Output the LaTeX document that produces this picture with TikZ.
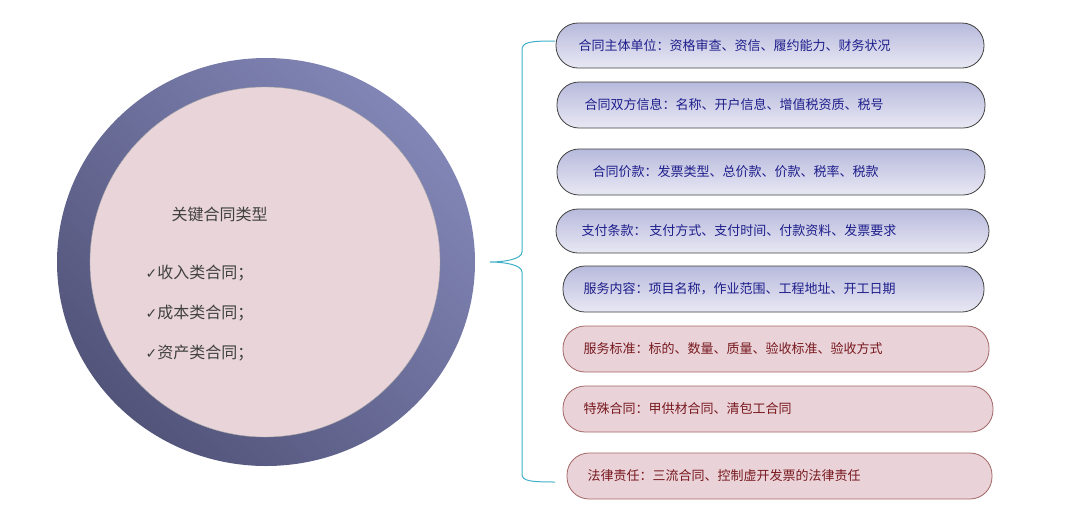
\documentclass[tikz,border=0pt]{standalone}
\usepackage{fontspec}
\newfontfamily\cjk{Noto Sans CJK SC}
\newfontfamily\dv{DejaVu Sans}
\begin{document}
\begin{tikzpicture}[x=1pt,y=-1pt,
  pinkbox/.style={draw=black!60!red!60,line width=0.8pt,rounded corners=22pt,fill={rgb,255:red,233;green,211;blue,217}},
  btxt/.style={font=\cjk\fontsize{13}{15}\selectfont,text={rgb,255:red,30;green,30;blue,140},anchor=west},
  ptxt/.style={font=\cjk\fontsize{13}{15}\selectfont,text={rgb,255:red,120;green,25;blue,30},anchor=west},
  ctxt/.style={font=\cjk\fontsize{16}{18}\selectfont,text=black!75,anchor=west}]
\useasboundingbox (0,0) rectangle (1080,512);
\definecolor{bt}{RGB}{184,186,220}\definecolor{bb}{RGB}{232,232,244}
\definecolor{brk}{RGB}{64,176,200}
% circle
\shade[left color={rgb,255:red,130;green,134;blue,182},right color={rgb,255:red,82;green,84;blue,122},shading angle=-45] (266,262) ellipse [x radius=209,y radius=204];
\filldraw[draw=black!35,fill={rgb,255:red,232;green,212;blue,217}] (265,262) circle [radius=175];
\node[ctxt] (t0) at (168,214) {关键合同类型};
\node[ctxt] (t1) at (142,273) {{\dv\fontsize{14}{16}\selectfont ✓}收入类合同；};
\node[ctxt] (t2) at (142,313) {{\dv\fontsize{14}{16}\selectfont ✓}成本类合同；};
\node[ctxt] (t3) at (142,353) {{\dv\fontsize{14}{16}\selectfont ✓}资产类合同；};
% boxes
\foreach \a/\b/\c/\d/\t/\s in {
 556/984/23/68/{合同主体单位：资格审查、资信、履约能力、财务状况}/575,
 557/985/82/128/{合同双方信息：名称、开户信息、增值税资质、税号}/581,
 557/985/149/195/{合同价款：发票类型、总价款、价款、税率、税款}/589,
 556/989/209/253/{支付条款：\ 支付方式、支付时间、付款资料、发票要求}/578,
 563/984/266/312/{服务内容：项目名称，作业范围、工程地址、开工日期}/580}{
 \shade[draw=black!75,line width=0.8pt,rounded corners=22pt,top color=bt,bottom color=bb] (\a,\c) rectangle (\b,\d);
 \node[btxt] at (\s,{(\c+\d)/2}) {\t};
}
\foreach \a/\b/\c/\d/\t/\s in {
 563/989/326/372/{服务标准：标的、数量、质量、验收标准、验收方式}/580,
 563/993/386/432/{特殊合同：甲供材合同、清包工合同}/580,
 567/992/453/499/{法律责任：三流合同、控制虚开发票的法律责任}/584}{
 \draw[pinkbox] (\a,\c) rectangle (\b,\d);
 \node[ptxt] at (\s,{(\c+\d)/2}) {\t};
}
% bracket
\coordinate (tip) at (490,262);
\coordinate (top) at (555,41);
\coordinate (bot) at (555,482);
\draw[brk,line width=1pt]
 (top) .. controls (530,41) and (522,42) .. (522,50) -- (522,252) .. controls (522,259) and (505,262) .. (tip)
 .. controls (505,262) and (522,265) .. (522,272) -- (522,474) .. controls (522,481) and (530,482) .. (bot);
\end{tikzpicture}
\end{document}
